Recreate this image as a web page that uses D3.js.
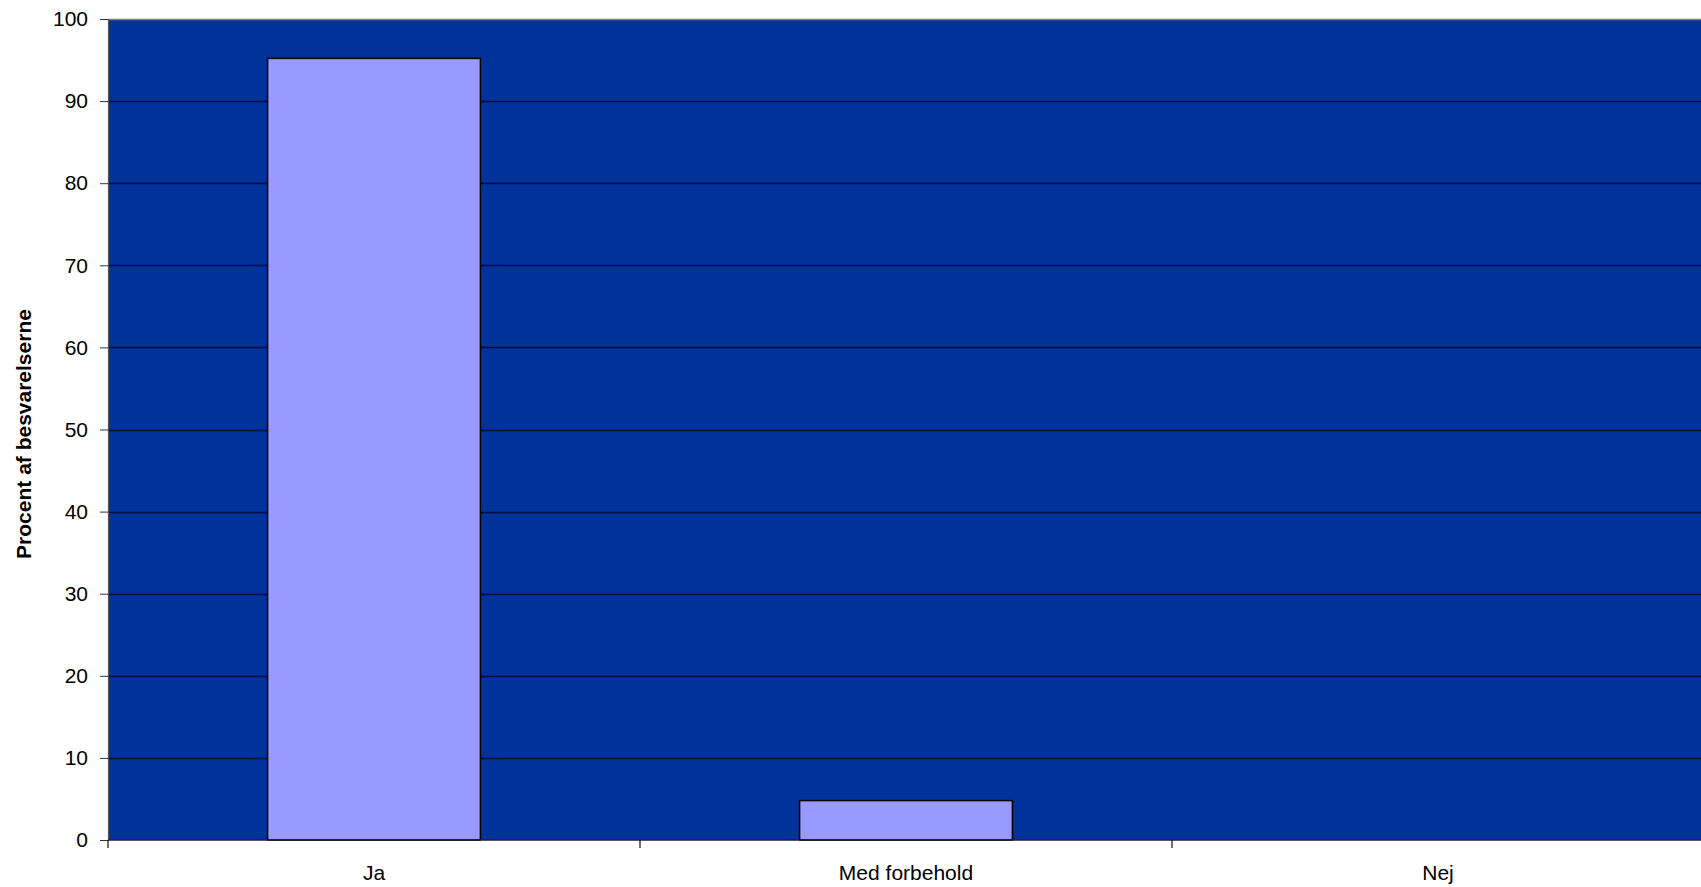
<!DOCTYPE html>
<html><head><meta charset="utf-8">
<script src="https://cdn.jsdelivr.net/npm/d3@7"></script>
<style>html,body{margin:0;padding:0;background:#fff;overflow:hidden}</style>
</head><body>
<svg id="c" width="1701" height="887"></svg>
<script>
const categories = ["Ja", "Med forbehold", "Nej"];
const values = [95.2, 4.8, 0];
const yTicks = [0, 10, 20, 30, 40, 50, 60, 70, 80, 90, 100];
const yLabel = "Procent af besvarelserne";

const svg = d3.select("#c");
const m = {left: 108, top: 19, right: 1704, bottom: 840};
const x = d3.scaleBand().domain(categories).range([m.left, m.right]).padding(0);
const y = d3.scaleLinear().domain([0, 100]).range([m.bottom, m.top]);
const FONT = "Liberation Sans, Arial, sans-serif";

svg.append("rect").attr("x", m.left).attr("y", m.top)
  .attr("width", m.right - m.left).attr("height", m.bottom - m.top).attr("fill", "#003399");

// gridlines
svg.append("g").selectAll("line").data(yTicks.filter(d => d > 0 && d < 100)).join("line")
  .attr("x1", m.left).attr("x2", m.right)
  .attr("y1", d => Math.round(y(d)) + 0.5).attr("y2", d => Math.round(y(d)) + 0.5)
  .attr("stroke", "#000a40").attr("stroke-width", 1.3);

// top border
svg.append("line").attr("x1", m.left).attr("x2", m.right).attr("y1", m.top + 0.5).attr("y2", m.top + 0.5)
  .attr("stroke", "#808080").attr("stroke-width", 1.5);

// bars
const bw = x.bandwidth() * 0.4;
svg.append("g").selectAll("rect").data(categories.map((c, i) => ({c, v: values[i]})).filter(d => d.v > 0)).join("rect")
  .attr("x", d => x(d.c) + (x.bandwidth() - bw) / 2)
  .attr("y", d => y(d.v))
  .attr("width", bw)
  .attr("height", d => y(0) - y(d.v))
  .attr("fill", "#9999FF").attr("stroke", "#000").attr("stroke-width", 1.5);

// y axis
const yAxis = d3.axisLeft(y).tickValues(yTicks).tickSize(8).tickPadding(12);
const gy = svg.append("g").attr("transform", `translate(${m.left},0)`).call(yAxis);
gy.select(".domain").attr("stroke", "#555").attr("stroke-width", 1.2);
gy.selectAll(".tick line").attr("stroke", "#333");
gy.selectAll("text").attr("font-family", FONT).attr("font-size", 21).attr("fill", "#000");

// x axis
const gx = svg.append("g").attr("transform", `translate(0,${m.bottom})`);
gx.append("line").attr("x1", m.left).attr("x2", m.right).attr("y1", 0).attr("y2", 0)
  .attr("stroke", "#222").attr("stroke-width", 1.5);
gx.selectAll("line.t").data(categories).join("line").attr("class", "t")
  .attr("x1", d => x(d)).attr("x2", d => x(d)).attr("y1", 0).attr("y2", 8)
  .attr("stroke", "#111").attr("stroke-width", 1.2);
gx.selectAll("text").data(categories).join("text")
  .attr("x", d => x(d) + x.bandwidth() / 2).attr("y", 40)
  .attr("text-anchor", "middle")
  .attr("font-family", FONT).attr("font-size", 21).attr("fill", "#000")
  .text(d => d);

// y label
svg.append("text").attr("transform", "translate(31,434) rotate(-90)")
  .attr("text-anchor", "middle")
  .attr("font-family", FONT).attr("font-size", 21).attr("font-weight", "bold")
  .text(yLabel);
</script>
</body></html>
